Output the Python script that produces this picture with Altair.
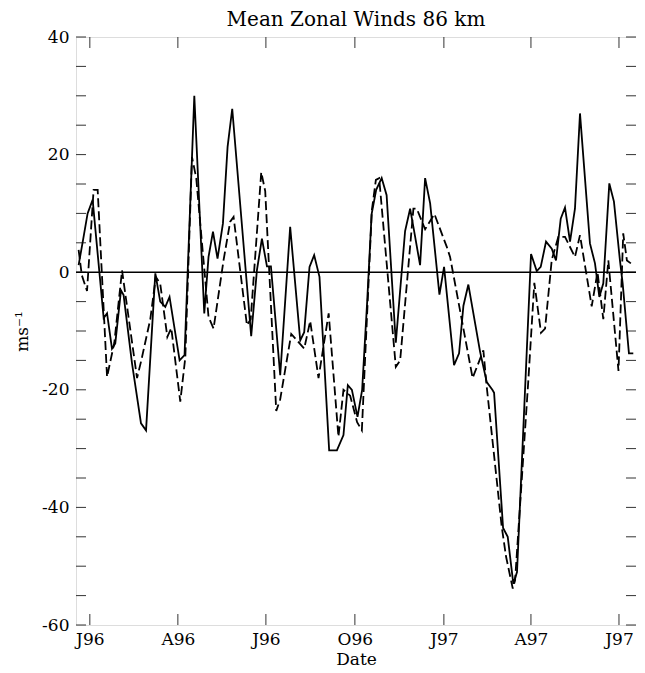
import altair as alt
import pandas as pd

TITLE = "Mean Zonal Winds 86 km"
Y_TITLE = "ms\u207b\u00b9"
X_TITLE = "Date"

# days since 1996-01-01, and wind speed (m/s)
solid_day = [-11.6, -7.0, -2.3, 2.9, 14.3, 17.8, 22.9, 26.3, 32.2, 34.9,
             43.6, 52.9, 58.1, 67.7, 72.8, 78.0, 82.4, 92.8, 97.9, 108.0,
             118.3, 122.7, 127.3, 132.0, 137.6, 142.4, 147.2, 166.8, 172.7, 177.9,
             183.1, 187.2, 196.8, 207.1, 217.5, 221.6, 227.1, 231.9, 237.4, 247.4,
             255.4, 262.2, 266.7, 270.9, 276.7, 281.5, 286.7, 291.3, 296.0, 301.7,
             306.8, 316.3, 325.9, 331.1, 336.3, 341.4, 346.6, 351.8, 361.4, 366.2,
             376.5, 381.7, 386.2, 391.3, 403.4, 410.3, 416.1, 417.9, 427.2, 432.0,
             437.8, 441.6, 456.1, 462.0, 466.1, 471.6, 477.5, 481.9, 486.8, 491.2,
             496.4, 501.5, 506.7, 517.0, 522.2, 526.7, 530.8, 537.0, 541.8, 548.0,
             550.8, 557.3, 561.8]
solid_ms = [1.2, 5.5, 10, 12.3, -7.8, -7, -13, -12.1, -3.1, -3.9,
            -15.5, -25.7, -26.9, -0.2, -5, -5.9, -4.2, -15, -14.1, 30,
            -7, 2.6, 6.9, 2.3, 8.3, 21.3, 27.8, -10.9, 0.3, 5.7,
            1, 1, -17.5, 7.7, -11.6, -10.2, 0.9, 2.9, -0.8, -30.3,
            -30.3, -27.7, -19.2, -20, -24.6, -20, -5, 9.9, 14, 16,
            13.1, -12, 7, 10.8, 6, 1.2, 16, 11.7, -3.8, 0.9,
            -15.8, -13.8, -5.7, -2.1, -13.5, -18.7, -20, -20.5, -43.5, -45,
            -53, -51, 3.1, 0.2, 0.9, 5.2, 4, 2, 9.1, 11,
            5.2, 10.8, 27, 4.9, 1.5, -4.2, -1.9, 15.1, 12, 2,
            -1.9, -13.8, -13.8]

dashed_day = [-11.6, -8.3, -2.9, 3.9, 8.1, 17.8, 25.3, 33.3, 48.8, 53.2,
              62.5, 68.2, 72.8, 80.1, 84.2, 93.5, 98.7, 105.6, 110.0, 122.7,
              127.9, 138.2, 145.1, 148.6, 162.4, 166.3, 177.2, 181.3, 192.7, 196.8,
              208.2, 221.6, 227.8, 236.4, 246.9, 257.0, 262.2, 269.1, 276.3, 281.2,
              291.5, 295.7, 299.1, 316.3, 320.8, 334.5, 338.0, 346.6, 356.2, 369.0,
              372.4, 395.7, 406.8, 410.3, 425.8, 430.3, 437.2, 439.6, 453.3, 459.5,
              466.4, 470.6, 477.5, 484.3, 491.2, 501.5, 506.7, 518.8, 524.8, 530.8,
              536.0, 546.5, 551.4, 555.2, 559.3]
dashed_ms = [3.8, -0.5, -3.2, 14, 14, -17.8, -12, 0.3, -18, -15,
             -8, -0.8, -2, -11, -9.5, -22, -14.5, 19.6, 16, -7.6,
             -9.6, 2, 8.6, 9.4, -9, -8, 17, 13.8, -23.6, -21.6,
             -10.5, -13, -8.3, -18, -7, -28, -20, -21, -25.5, -26.9,
             10.5, 15.7, 16, -16.1, -15, 10.8, 10.8, 7.3, 9.9, 4.3,
             2.6, -18, -13.3, -19.5, -43.3, -48.4, -53.8, -52.4, -18.4, -1.8,
             -10.3, -9.6, 2.1, 6, 6, 2.6, 6.3, -5.8, 0, -8,
             2, -16.8, 6.6, 2, 1.5]

tick_dates = ["1996-01-01", "1996-04-01", "1996-07-01", "1996-10-01",
              "1997-01-01", "1997-04-01", "1997-07-01"]
y_label_values = [-60, -40, -20, 0, 20, 40]
y_tick_values = [-60, -55, -50, -45, -40, -35, -30, -25, -20, -15, -10, -5,
                 0, 5, 10, 15, 20, 25, 30, 35, 40]
x_domain_days = [-14.3, 564.6]

W, H = 560, 588
FONT = "DejaVu Serif"
BASE = pd.Timestamp("1996-01-01")


def iso(days):
    return [(BASE + pd.Timedelta(days=float(d))).strftime("%Y-%m-%dT%H:%M:%S") for d in days]


def dt(ts):
    t = pd.Timestamp(ts)
    return alt.DateTime(year=t.year, month=t.month, date=t.day, hours=t.hour, minutes=t.minute)


solid_df = pd.DataFrame({"date": iso(solid_day), "ms": solid_ms})
dashed_df = pd.DataFrame({"date": iso(dashed_day), "ms": dashed_ms})
xt_df = pd.DataFrame({"date": [d + "T00:00:00" for d in tick_dates]})
yt_df = pd.DataFrame({"ms": y_tick_values})
zero_df = pd.DataFrame({"ms": [0]})

dom = [dt(BASE + pd.Timedelta(days=d)) for d in x_domain_days]

X = alt.X(
    "date:T",
    scale=alt.Scale(domain=dom),
    axis=alt.Axis(
        values=[dt(d) for d in tick_dates],
        labelExpr="upper(substring(timeFormat(datum.value, '%b'), 0, 1)) + timeFormat(datum.value, '%y')",
        ticks=False, domain=False, grid=False,
        labelFont=FONT, labelFontSize=17, labelColor="black", labelPadding=6,
        title=X_TITLE, titleFont=FONT, titleFontSize=17, titleFontWeight="normal",
        titleColor="black", titlePadding=4,
    ),
)
Y = alt.Y(
    "ms:Q",
    scale=alt.Scale(domain=[-60, 40], nice=False, zero=False),
    axis=alt.Axis(
        values=y_label_values,
        labelExpr="'' + datum.value",
        ticks=False, domain=False, grid=False,
        labelFont=FONT, labelFontSize=17, labelColor="black", labelPadding=7,
        title=Y_TITLE, titleFont=FONT, titleFontSize=17, titleFontWeight="normal",
        titleColor="black", titlePadding=10,
    ),
)

solid = alt.Chart(solid_df).mark_line(color="black", strokeWidth=1.8).encode(x=X, y=Y)
dashed = alt.Chart(dashed_df).mark_line(color="black", strokeWidth=1.8, strokeDash=[9, 4]).encode(x=X, y=Y)
zero = alt.Chart(zero_df).mark_rule(color="black", strokeWidth=1.4).encode(y=Y)

ytick_l = alt.Chart(yt_df).mark_rule(color="#333", strokeWidth=1).encode(
    y=Y, x=alt.value(0), x2=alt.value(10))
ytick_r = alt.Chart(yt_df).mark_rule(color="#333", strokeWidth=1).encode(
    y=Y, x=alt.value(W - 10), x2=alt.value(W))
xtick_b = alt.Chart(xt_df).mark_rule(color="#333", strokeWidth=1).encode(
    x=X, y=alt.value(H - 11), y2=alt.value(H))
xtick_t = alt.Chart(xt_df).mark_rule(color="#333", strokeWidth=1).encode(
    x=X, y=alt.value(0), y2=alt.value(11))

chart = alt.layer(ytick_l, ytick_r, xtick_b, xtick_t, zero, dashed, solid).properties(
    width=W,
    height=H,
    autosize=alt.AutoSizeParams(type="none"),
    padding={"left": 68, "top": 29, "right": 0, "bottom": 46},
    title=alt.Title(TITLE, font=FONT, fontSize=20, fontWeight="normal",
                    color="black", anchor="middle", offset=0, dy=2),
).configure_view(stroke="#333", strokeWidth=1.2).configure(background="white")

chart.save("out.html", embed_options={"renderer": "svg", "actions": False})
